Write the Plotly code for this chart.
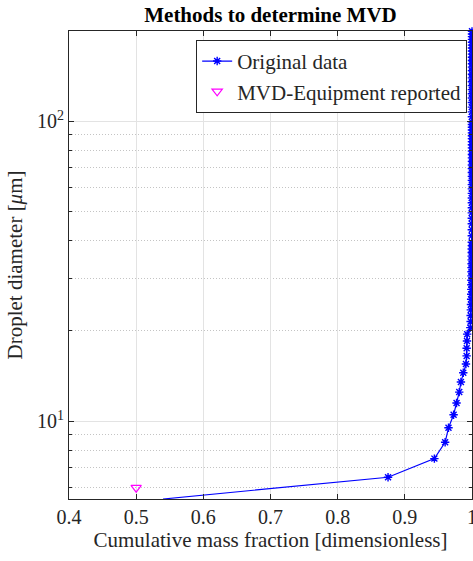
import plotly.graph_objects as go
import math

# Original data: cumulative mass fraction vs droplet diameter (um)
diameter_um = [5.5, 6.5, 7.5, 8.5, 9.5, 10.5, 11.5, 12.5, 13.5, 14.5, 15.5, 16.5, 17.5, 18.5, 19.5,
               20.5, 21.5, 22.5, 23.5, 24.5, 25.5, 26.5, 27.5, 28.5, 29.5,
               30.5, 31.5, 32.5, 33.5, 34.5, 35.5, 36.5, 37.5, 38.5, 39.5,
               41.5, 43.5, 45.5, 47.5, 49.5, 51.5, 53.5, 55.5, 57.5, 59.5,
               61.5, 63.5, 65.5, 67.5, 69.5, 71.5, 73.5, 75.5, 77.5, 79.5,
               81.5, 83.5, 85.5, 87.5, 89.5, 91.5, 93.5, 95.5, 97.5, 99.5,
               103.5, 107.5, 111.5, 115.5, 119.5, 123.5, 127.5, 131.5, 135.5, 139.5,
               143.5, 147.5, 151.5, 155.5, 159.5, 163.5, 167.5, 171.5, 175.5, 179.5,
               183.5, 187.5, 191.5, 195.5, 199.5]
cum_mass_fraction = [0.540, 0.875, 0.944, 0.960, 0.965, 0.9726, 0.977, 0.981, 0.9835, 0.987,
                     0.991, 0.992, 0.992, 0.9925, 0.9928,
                     0.9975, 0.998, 0.998, 0.9983, 0.9985, 0.9987, 0.9988, 0.999, 0.999, 0.9991,
                     0.9992, 0.9993, 0.9993, 0.9994, 0.9995, 0.9995, 0.9996, 0.9996, 0.9997, 0.9997,
                     0.9997, 0.9997, 0.9997, 0.9997, 0.9997, 0.9998, 0.9998, 0.9998, 0.9998, 0.9998,
                     0.9998, 0.9998, 0.9998, 0.9998, 0.9998, 0.9999, 0.9999, 0.9999, 0.9999, 0.9999,
                     0.9999, 0.9999, 0.9999, 0.9999, 0.9999, 0.9999, 0.9999, 0.9999, 0.9999, 0.9999,
                     0.9999, 0.9999, 0.9999, 0.9999, 0.9999, 0.9999, 0.9999, 0.9999, 0.9999, 0.9999,
                     1.0, 1.0, 1.0, 1.0, 1.0, 1.0, 1.0, 1.0, 1.0, 1.0,
                     1.0, 1.0, 1.0, 1.0, 1.0]

# MVD reported by equipment
mvd_fraction = [0.5]
mvd_diameter = [6.0]

x_ticks = [0.4, 0.5, 0.6, 0.7, 0.8, 0.9, 1.0]
x_tick_labels = ["0.4", "0.5", "0.6", "0.7", "0.8", "0.9", "1"]
y_minor = [6, 7, 8, 9, 20, 30, 40, 50, 60, 70, 80, 90]

FONT = "Liberation Serif, Times New Roman, serif"
AX = "#262626"
GRID = "#e3e3e3"

fig = go.Figure()
fig.add_trace(go.Scatter(
    x=cum_mass_fraction, y=diameter_um, mode="lines+markers",
    name="Original data",
    line=dict(color="#0000ff", width=1.2),
    marker=dict(symbol="asterisk-open", size=7, color="#0000ff",
                line=dict(color="#0000ff", width=1.4)),
    cliponaxis=False,
))
fig.add_trace(go.Scatter(
    x=mvd_fraction, y=mvd_diameter, mode="markers",
    name="MVD-Equipment reported",
    marker=dict(symbol="triangle-down-open", size=9, color="#ff00ff",
                line=dict(color="#ff00ff", width=1.2)),
    cliponaxis=False,
))

fig.update_layout(
    width=473, height=561,
    margin=dict(l=69, r=1, t=31, b=62, autoexpand=False),
    paper_bgcolor="white", plot_bgcolor="white",
    font=dict(family=FONT, size=20, color=AX),
    title=dict(text="<b>Methods to determine MVD</b>", x=(69 + 472) / 2 / 473,
               xanchor="center", y=1 - 15 / 561, yanchor="middle",
               font=dict(family=FONT, size=21, color="black")),
    showlegend=True,
    legend=dict(x=0.988, y=0.981, xanchor="right", yanchor="top",
                bgcolor="white", bordercolor=AX, borderwidth=1,
                font=dict(family=FONT, size=21, color=AX),
                tracegroupgap=0, itemwidth=30),
)

fig.update_xaxes(
    range=[0.4, 1.0], tickmode="array", tickvals=x_ticks, ticktext=x_tick_labels,
    ticks="inside", ticklen=5, tickcolor=AX, showline=True, linecolor=AX, linewidth=1,
    mirror="ticks", showgrid=True, gridcolor=GRID, gridwidth=1, zeroline=False,
    tickfont=dict(family=FONT, size=20, color=AX), ticklabeloverflow="allow",
    title=dict(text="Cumulative mass fraction [dimensionless]", standoff=5,
               font=dict(family=FONT, size=21, color=AX)),
    automargin=False,
)
fig.update_yaxes(
    type="log", range=[math.log10(5.5), math.log10(200)],
    tickmode="array", tickvals=[10, 100], ticktext=["10<sup>1</sup>", "10<sup>2</sup>"],
    ticks="inside", ticklen=5, tickcolor=AX, showline=True, linecolor=AX, linewidth=1,
    mirror="ticks", showgrid=True, gridcolor=GRID, gridwidth=1, zeroline=False,
    tickfont=dict(family=FONT, size=20, color=AX),
    minor=dict(tickmode="array", tickvals=y_minor, ticks="inside", ticklen=3,
               tickcolor=AX, showgrid=True, gridcolor="#c4c4c4", griddash="1px,2px",
               gridwidth=1),
    title=dict(text="Droplet diameter [<i>μ</i>m]", standoff=8,
               font=dict(family=FONT, size=21, color=AX)),
    automargin=False,
)

fig.write_html("out.html")
